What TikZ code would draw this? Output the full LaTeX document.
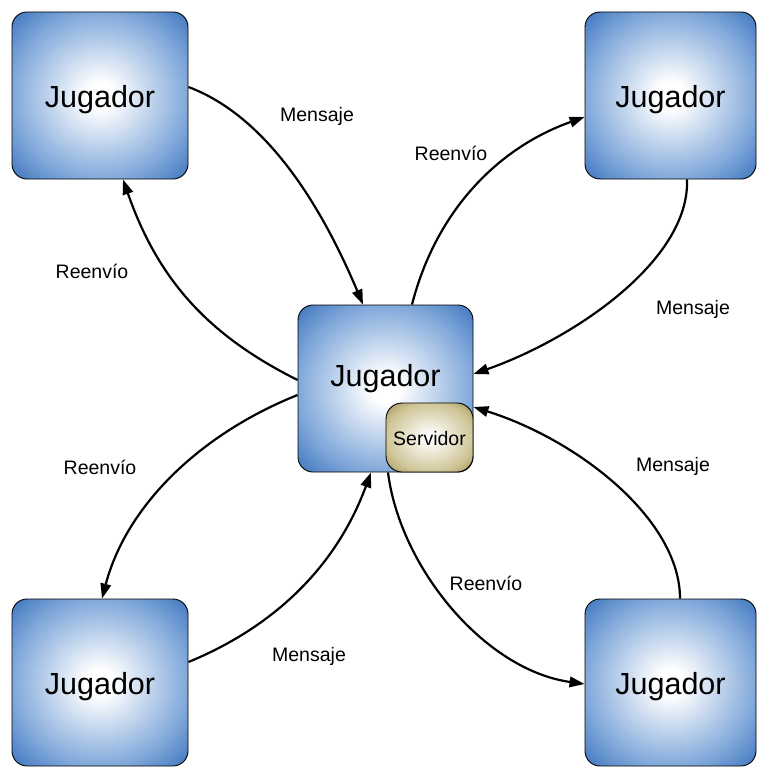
\documentclass[tikz,border=0pt]{standalone}
\usepackage{fontspec}
\setmainfont{Liberation Sans}
\usetikzlibrary{arrows.meta}
\definecolor{jugmid}{HTML}{80A8DA}
\definecolor{jugdark}{HTML}{3A72BC}
\definecolor{srvmid}{HTML}{CFC597}
\definecolor{srvdark}{HTML}{A09050}
\pgfdeclareradialshading{jugshade}{\pgfpoint{0bp}{0bp}}{color(0bp)=(white); color(4bp)=(white); color(25bp)=(jugmid); color(36bp)=(jugdark); color(50bp)=(jugdark)}
\pgfdeclareradialshading{srvshade}{\pgfpoint{0bp}{0bp}}{color(0bp)=(white); color(3bp)=(white!95!srvmid); color(25bp)=(srvmid); color(36bp)=(srvdark); color(50bp)=(srvdark)}
\newcommand{\lowered}[2]{\raisebox{-#1}[\height][\depth]{#2}}
\tikzset{
  jug/.style={draw=black, line width=0.9pt, rounded corners=15pt, shading=jugshade,
    minimum width=176pt, minimum height=167pt, inner sep=0pt,
    font=\fontsize{30.5}{32}\selectfont},
  srv/.style={draw=black, line width=0.9pt, rounded corners=16pt, shading=srvshade,
    minimum width=87pt, minimum height=69pt, inner sep=0pt,
    font=\fontsize{19.5}{21}\selectfont},
  lbl/.style={font=\fontsize{19.5}{21}\selectfont, inner sep=0pt},
  conn/.style={line width=2.2pt, -{Triangle[length=15pt,width=10.5pt]}},
}
\begin{document}
\begin{tikzpicture}[x=1pt,y=-1pt]
\useasboundingbox (0,0) rectangle (772,778);
\node[jug] (tl) at (100,95.5) {\lowered{4pt}{Jugador}};
\node[jug, minimum width=171pt] (tr) at (670.5,95.5) {\lowered{4pt}{Jugador}};
\node[jug] (bl) at (100,682.5) {\lowered{4pt}{Jugador}};
\node[jug, minimum width=171pt] (br) at (670.5,682.5) {\lowered{4pt}{Jugador}};
\node[jug, minimum width=175pt] (c) at (385.5,388.5) {};
\node[font=\fontsize{30.5}{32}\selectfont, inner sep=0pt] (ct) at (385.5,379) {Jugador};
\node[srv] (s) at (429.5,437.5) {\lowered{1pt}{Servidor}};

\draw[conn] ([yshift=8.5pt]tl.east) .. controls +(80,30) and +(-40,-95) .. ([xshift=-22.5pt]c.north);
\draw[conn] ([yshift=8.5pt]c.west) .. controls +(-90,-45) and +(35,100) .. ([xshift=23pt]tl.south);
\draw[conn] ([xshift=26.5pt]c.north) .. controls +(23,-90) and +(-90,32) .. ([yshift=-21.5pt]tr.west);
\draw[conn] ([xshift=16.5pt]tr.south) .. controls +(3,81) and +(100,-35) .. ([yshift=14.5pt]c.east);
\draw[conn] ([yshift=-6.5pt]c.west) .. controls +(-95,38) and +(25,-95) .. ([xshift=2pt]bl.north);
\draw[conn] ([yshift=20.5pt]bl.east) .. controls +(85,-35) and +(-35,95) .. ([xshift=-14.5pt]c.south);
\draw[conn] ([xshift=2.5pt]c.south) .. controls +(12,95) and +(-100,-14) .. ([yshift=-1.5pt]br.west);
\draw[conn] ([xshift=9.5pt]br.north) .. controls +(0,-79) and +(105,33) .. ([yshift=-18.5pt]c.east);

\node[lbl] (l1) at (317,116) {Mensaje};
\node[lbl] (l2) at (92,271) {Reenvío};
\node[lbl] (l3) at (451,153) {Reenvío};
\node[lbl] (l4) at (693,309) {Mensaje};
\node[lbl] (l5) at (100,467) {Reenvío};
\node[lbl] (l6) at (309,656) {Mensaje};
\node[lbl] (l7) at (486,583) {Reenvío};
\node[lbl] (l8) at (673,466) {Mensaje};
\end{tikzpicture}
\end{document}
